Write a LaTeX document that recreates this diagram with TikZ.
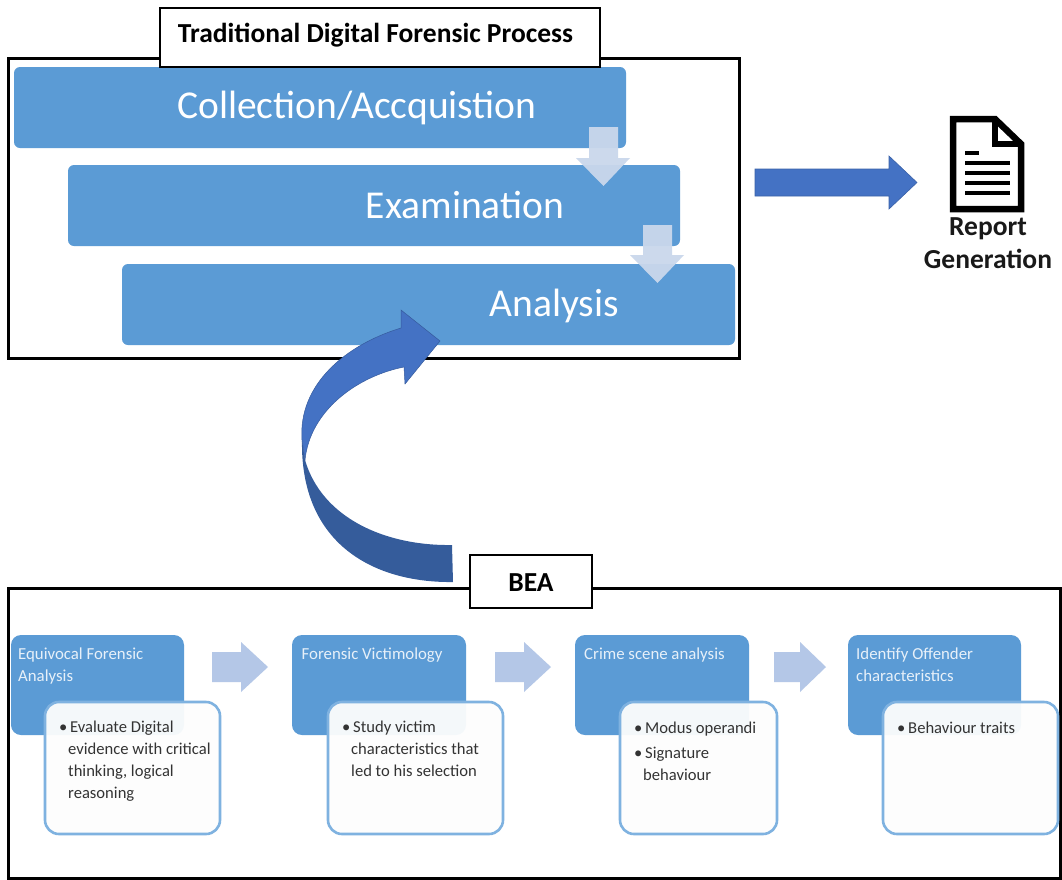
\documentclass[tikz,border=0pt]{standalone}
\usepackage{fontspec}
\setmainfont{Carlito}
\definecolor{barblue}{HTML}{5B9BD5}
\definecolor{deepblue}{HTML}{4472C4}
\definecolor{darkblue}{HTML}{355C9B}
\definecolor{paleblue}{HTML}{B4C7E7}
\definecolor{palearrow}{HTML}{CAD8EC}
\definecolor{edgeblue}{HTML}{7FB2E0}
\definecolor{cardwhite}{HTML}{FDFDFD}
\tikzset{
  x=1pt,y=-1pt,
  frame/.style={draw=black,line width=3pt,fill=white},
  titlebox/.style={draw=black,line width=1.5pt,fill=white},
  titletext/.style={font=\bfseries\fontsize{27.5}{32}\selectfont,inner sep=0pt},
  bar/.style={fill=barblue,rounded corners=6pt},
  card/.style={fill=barblue,rounded corners=10pt},
  detail/.style={draw=edgeblue,line width=2.6pt,fill=cardwhite,fill opacity=.95,rounded corners=14pt},
  bartext/.style={text=white,font=\fontsize{39.5}{44}\selectfont,inner sep=0pt},
  cardtext/.style={text=white!85!barblue,font=\fontsize{16.8}{22}\selectfont,anchor=north west,align=left,inner sep=0pt},
  bullet/.style={text=black!80,font=\fontsize{16.6}{22}\selectfont,anchor=north west,align=left,inner sep=0pt},
  reptext/.style={font=\bfseries\fontsize{27.5}{33}\selectfont,align=center,inner sep=0pt,text=black!90},
}
\begin{document}
\begin{tikzpicture}
\useasboundingbox (0,0) rectangle (1062,879);
% top frame
\draw[frame] (8,58) rectangle (739,358);
\path[bar] (14,67) rectangle (626,148);
\path[bar] (68,165) rectangle (680,246);
\path[bar] (122,264) rectangle (735,345);
% title
\draw[titlebox] (160,8) rectangle (600,67);
\node[titletext] (ttl) at (375.5,35) {Traditional Digital Forensic Process};
\node[bartext] (coll) at (357,107.5) {Collection/Accquistion};
\node[bartext] (exam) at (465,205) {Examination};
\node[bartext] (ana) at (554,305.5) {Analysis};
% down arrows
\fill[palearrow,opacity=.95] (589,127)--(618,127)--(618,158)--(630,158)--(603.5,186)--(576,158)--(589,158)--cycle;
\fill[palearrow,opacity=.95] (643,225)--(672,225)--(672,255)--(684,255)--(657.5,283)--(630,255)--(643,255)--cycle;
% report arrow
\path[fill=deepblue,draw=deepblue!85!black,line width=.6pt] (755,169)--(889,169)--(889,156)--(917,182.5)--(889,209)--(889,196)--(755,196)--cycle;
% document icon
\draw[line width=6.5pt,fill=white,line join=miter] (953,119)--(995,119)--(1021,144)--(1021,209)--(953,209)--cycle;
\draw[line width=6.5pt,line join=miter] (995,119)--(995,144)--(1021,144);
\draw[line width=3.6pt] (965,153)--(979,153);
\foreach \yy in {163,173,183,193}{\draw[line width=3.6pt] (965,\yy)--(1010,\yy);}
\node[reptext] (rep) at (988,243) {Report\\Generation};
% bottom frame
\draw[frame] (8,588) rectangle (1060,878);
\draw[titlebox] (470,555) rectangle (592,608);
\node[titletext] (bea) at (531,583) {BEA};
% curved arrow
\path[fill=darkblue] (453,582) .. controls (375,583) and (300,545) .. (302,440)
   -- (305,460) .. controls (322,518) and (385,546) .. (452,545) -- cycle;
\path[fill=deepblue,draw=deepblue!80!black,line width=.5pt]
   (302,440) .. controls (298,385) and (345,345) .. (401,328)
   -- (401,310) -- (440,341) -- (405,384) -- (404,367)
   .. controls (358,376) and (310,410) .. (305,460) -- cycle;
% step 1
\path[card] (11,635) rectangle (184,735);
\node[cardtext] (c1) at (18,648) {Equivocal Forensic\\Analysis};
\path[detail] (45,702) rectangle (220,834);
\node[bullet] (b1) at (59,721) {•\,Evaluate Digital\\\hspace*{9pt}evidence with critical\\\hspace*{9pt}thinking, logical\\\hspace*{9pt}reasoning};
% step 2
\path[card] (292,635) rectangle (466,735);
\node[cardtext] (c2) at (301.5,648) {Forensic Victimology};
\path[detail] (328,702) rectangle (503,834);
\node[bullet] (b2) at (342,721) {•\,Study victim\\\hspace*{9pt}characteristics that\\\hspace*{9pt}led to his selection};
% step 3
\path[card] (575,635) rectangle (749,735);
\node[cardtext] (c3) at (584,648) {Crime scene analysis};
\path[detail] (620,702) rectangle (777,834);
\node[bullet] (b3) at (634,722) {•\,Modus operandi\\[3pt]•\,Signature\\\hspace*{9pt}behaviour};
% step 4
\path[card] (848,635) rectangle (1021,735);
\node[cardtext] (c4) at (856,648) {Identify Offender\\characteristics};
\path[detail] (883,702) rectangle (1058,834);
\node[bullet] (b4) at (897,722) {•\,Behaviour traits};
% flow arrows
\foreach \xa/\xb/\xc in {212/241/268,495/524/551,774/800/826}{
  \fill[paleblue] (\xa,652)--(\xb,652)--(\xb,642)--(\xc,667)--(\xb,692)--(\xb,682)--(\xa,682)--cycle;
}
\end{tikzpicture}
\end{document}
